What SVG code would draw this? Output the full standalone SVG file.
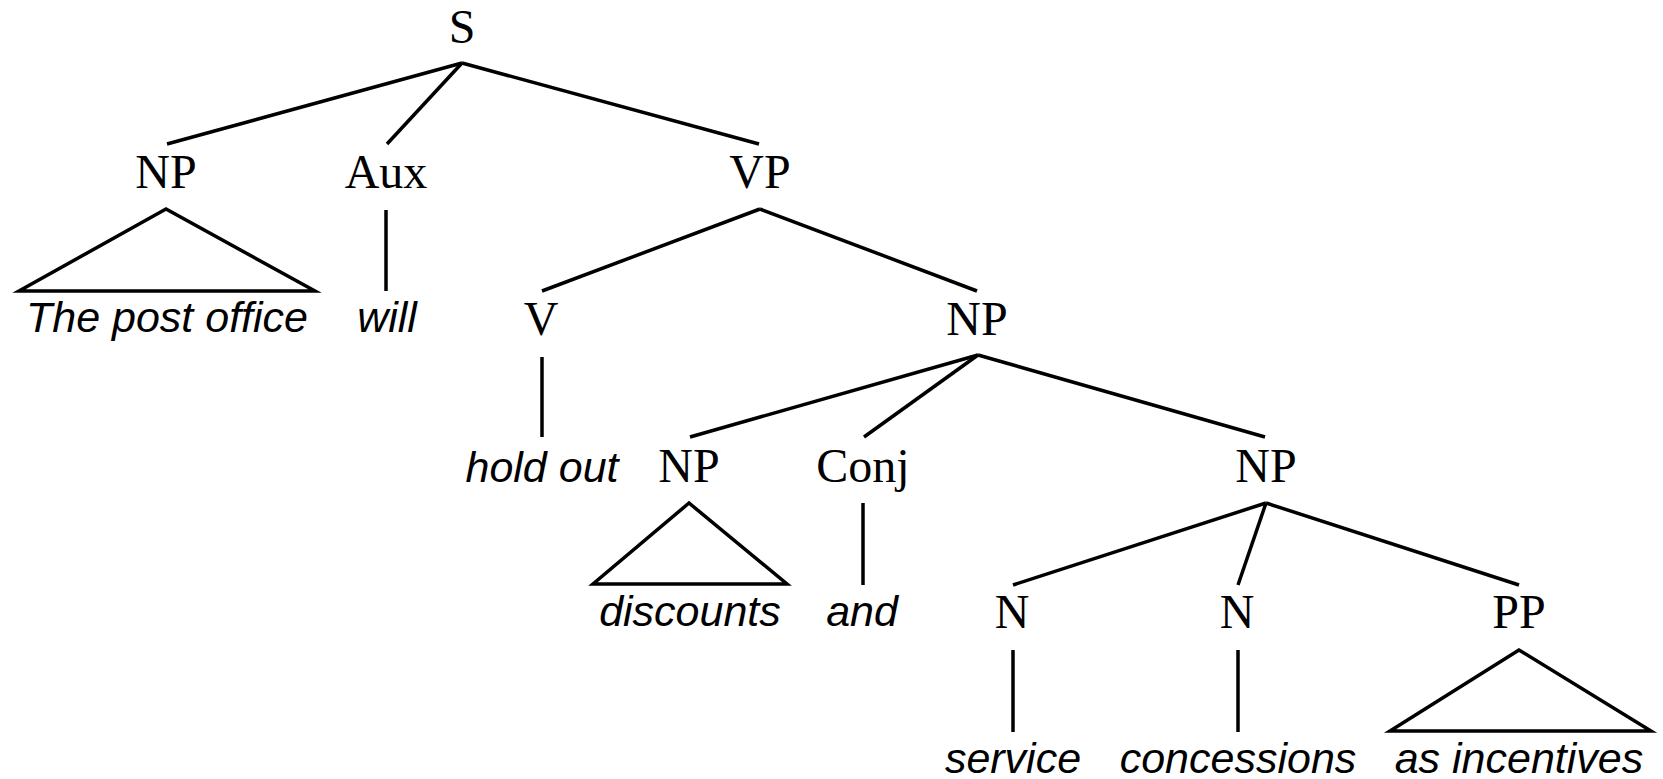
<svg xmlns="http://www.w3.org/2000/svg" width="1663" height="779" viewBox="0 0 1663 779">
  <style>
    .cat { font-family: "Liberation Serif", "Times New Roman", serif; font-size: 48px; fill: #000; text-anchor: middle; }
    .leaf { font-family: "Liberation Sans", Arial, sans-serif; font-style: italic; font-size: 43px; fill: #000; text-anchor: middle; }
    .edge { stroke: #000; stroke-width: 3.5; fill: none; stroke-linecap: butt; }
    .roof { stroke: #000; stroke-width: 3.5; fill: none; stroke-linejoin: miter; stroke-miterlimit: 10; }
  </style>
  <rect width="1663" height="779" fill="#fff"/>

  <!-- branches of the tree -->
  <g id="connectors">
    <!-- S -->
    <line class="edge" x1="462" y1="63" x2="167" y2="144"/>
    <line class="edge" x1="462" y1="63" x2="387" y2="144"/>
    <line class="edge" x1="462" y1="63" x2="759" y2="144"/>
    <!-- NP subject roof -->
    <polygon class="roof" points="166,209 19,291 315,291"/>
    <!-- Aux -->
    <line class="edge" x1="386" y1="210" x2="386" y2="291"/>
    <!-- VP -->
    <line class="edge" x1="760" y1="209" x2="542" y2="291"/>
    <line class="edge" x1="760" y1="209" x2="977" y2="291"/>
    <!-- V -->
    <line class="edge" x1="542" y1="357" x2="542" y2="437"/>
    <!-- object NP -->
    <line class="edge" x1="978" y1="355" x2="690" y2="437"/>
    <line class="edge" x1="978" y1="355" x2="864" y2="437"/>
    <line class="edge" x1="978" y1="355" x2="1265" y2="437"/>
    <!-- first conjunct roof -->
    <polygon class="roof" points="689,503 593,584 787,584"/>
    <!-- Conj -->
    <line class="edge" x1="863" y1="503" x2="863" y2="585"/>
    <!-- second conjunct -->
    <line class="edge" x1="1266" y1="503" x2="1013" y2="585"/>
    <line class="edge" x1="1266" y1="503" x2="1238" y2="585"/>
    <line class="edge" x1="1266" y1="503" x2="1519" y2="585"/>
    <!-- N, N -->
    <line class="edge" x1="1013" y1="650" x2="1013" y2="732"/>
    <line class="edge" x1="1238" y1="650" x2="1238" y2="732"/>
    <!-- PP roof -->
    <polygon class="roof" points="1519,650 1390,731 1651,731"/>
  </g>

  <g id="node-S"><text class="cat" x="462" y="43">S</text></g>
  <g id="node-NP-subj"><text class="cat" x="166" y="188">NP</text></g>
  <g id="node-Aux"><text class="cat" x="386" y="188">Aux</text></g>
  <g id="node-VP"><text class="cat" x="760" y="188">VP</text></g>
  <g id="leaf-the-post-office"><text class="leaf" x="167" y="332">The post office</text></g>
  <g id="leaf-will"><text class="leaf" x="387" y="332">will</text></g>
  <g id="node-V"><text class="cat" x="541" y="335">V</text></g>
  <g id="node-NP-obj"><text class="cat" x="977" y="335">NP</text></g>
  <g id="leaf-hold-out"><text class="leaf" x="542" y="482">hold out</text></g>
  <g id="node-NP-conj1"><text class="cat" x="689" y="482">NP</text></g>
  <g id="node-Conj"><text class="cat" x="863" y="482">Conj</text></g>
  <g id="node-NP-conj2"><text class="cat" x="1266" y="482">NP</text></g>
  <g id="leaf-discounts"><text class="leaf" x="690" y="626">discounts</text></g>
  <g id="leaf-and"><text class="leaf" x="862" y="626">and</text></g>
  <g id="node-N1"><text class="cat" x="1012" y="628">N</text></g>
  <g id="node-N2"><text class="cat" x="1237" y="628">N</text></g>
  <g id="node-PP"><text class="cat" x="1519" y="628">PP</text></g>
  <g id="leaf-service"><text class="leaf" x="1013" y="773">service</text></g>
  <g id="leaf-concessions"><text class="leaf" x="1238" y="773">concessions</text></g>
  <g id="leaf-as-incentives"><text class="leaf" x="1519" y="773">as incentives</text></g>
</svg>
